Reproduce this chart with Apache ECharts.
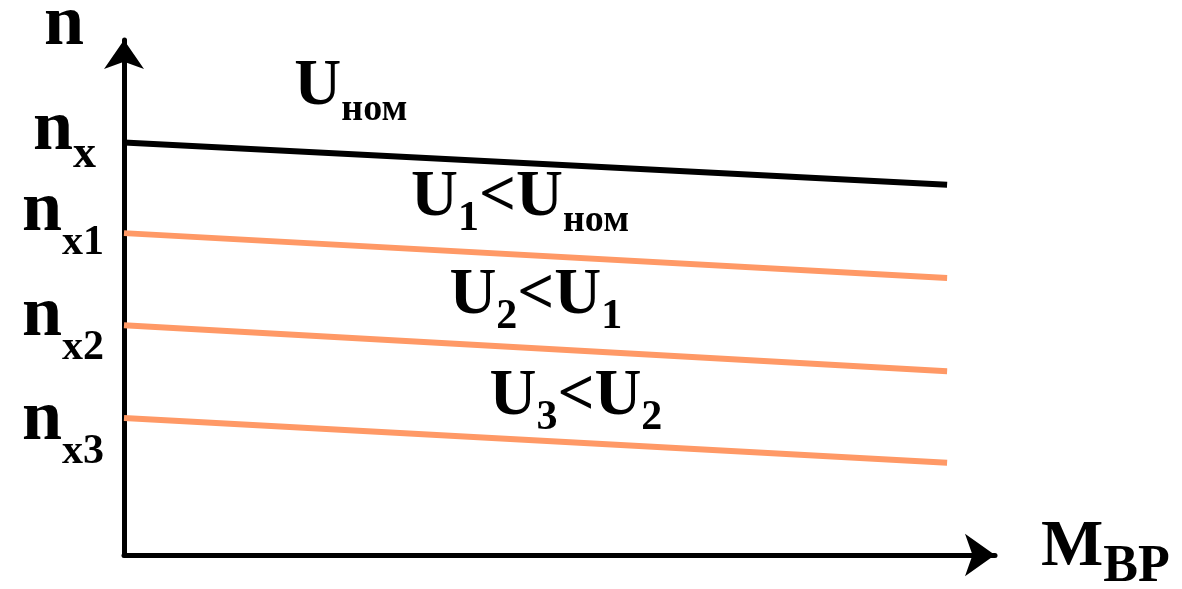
<!DOCTYPE html>
<html>
<head>
<meta charset="utf-8">
<script src="https://cdn.jsdelivr.net/npm/echarts@6/dist/echarts.min.js"></script>
<style>
    html, body { margin: 0; background: #fff; }
    #chart { width: 1182px; height: 589px; }
</style>
</head>
<body>
<div id="chart"></div>
<script>
// механические характеристики n(M) при снижении напряжения

const torque = [0, 94.5];
const speedNom = [80.1, 71.9];
const speedU1 = [62.5, 53.8];
const speedU2 = [44.6, 35.7];
const speedU3 = [26.6, 17.9];

const curveLabels = [
    '{m|U}{s|ном}',
    '{m|U}{d|1}{m|<U}{s|ном}',
    '{m|U}{d|2}{m|<U}{d|1}',
    '{m|U}{d|3}{m|<U}{d|2}'
];
const tickValues = [82.4, 66.7, 46.3, 26.1];
const tickSubs = ['x', 'x1', 'x2', 'x3'];

const FONT = 'Liberation Serif';

// где стоят подписи кривых (в единицах осей)
const labelAt = [[19.5, 90.9], [32.9, 69.3], [37.3, 50.3], [41.9, 30.7]];

// подстрочные индексы: verticalAlign bottom + маленькая height опускает их ниже строки
const richU = {
    m: { fontFamily: FONT, fontWeight: 'bold', fontSize: 65, lineHeight: 65, verticalAlign: 'top', color: '#000' },
    d: { fontFamily: FONT, fontWeight: 'bold', fontSize: 42, lineHeight: 23, height: 23, verticalAlign: 'bottom', color: '#000' },
    s: { fontFamily: FONT, fontWeight: 'bold', fontSize: 38, lineHeight: 19, height: 19, verticalAlign: 'bottom', color: '#000' }
};

function buildSeries(values, color, idx) {
    return {
        type: 'line',
        data: torque.map((x, i) => [x, values[i]]),
        showSymbol: false,
        lineStyle: { color: color, width: 6 },
        silent: true,
        markPoint: {
            symbol: 'rect',
            symbolSize: 1,
            itemStyle: { color: 'rgba(0,0,0,0)' },
            label: {
                show: true,
                position: 'right',
                distance: 0,
                formatter: curveLabels[idx],
                rich: richU
            },
            data: [{ coord: labelAt[idx] }]
        }
    };
}

const chart = echarts.init(document.getElementById('chart'));

chart.setOption({
    animation: false,
    grid: { left: 124, right: 187, top: 40, bottom: 34, outerBoundsMode: 'none', containLabel: false },
    xAxis: {
        type: 'value', min: 0, max: 100,
        name: '{m|М}{s|ВР}',
        nameLocation: 'end',
        nameGap: 46,
        nameMoveOverlap: false,
        nameTextStyle: {
            padding: [0, 0, 14, 0],
            rich: {
                m: { fontFamily: FONT, fontWeight: 'bold', fontSize: 66, lineHeight: 66, verticalAlign: 'top', color: '#000' },
                s: { fontFamily: FONT, fontWeight: 'bold', fontSize: 52, lineHeight: 27, height: 27, verticalAlign: 'bottom', color: '#000' }
            }
        },
        axisLine: {
            lineStyle: { color: '#000', width: 5 },
            symbol: ['none', 'arrow'],
            symbolSize: [32, 30]
        },
        axisTick: { show: false },
        axisLabel: { show: false },
        splitLine: { show: false }
    },
    yAxis: {
        type: 'value', min: 0, max: 100,
        name: 'n',
        nameLocation: 'end',
        nameGap: 15,
        nameMoveOverlap: false,
        nameTextStyle: {
            fontFamily: FONT, fontWeight: 'bold', fontSize: 72, color: '#000',
            align: 'right', verticalAlign: 'middle',
            padding: [0, 40, 0, 0]
        },
        axisLine: {
            lineStyle: { color: '#000', width: 5 },
            symbol: ['none', 'arrow'],
            symbolSize: [30, 29]
        },
        axisTick: { show: false },
        splitLine: { show: false },
        axisLabel: {
            // пустые метки на концах, чтобы echarts не прятал крайние n_x / n_x3
            customValues: [0].concat(tickValues, [100]),
            margin: 20,
            hideOverlap: false,
            formatter: (v) => {
                let i = tickValues.indexOf(v);
                if (i < 0) return '';
                // у n_x подпись короче и стоит левее
                return '{m|n}{' + (i === 0 ? 't' : 's') + '|' + tickSubs[i] + '}';
            },
            rich: {
                m: { fontFamily: FONT, fontWeight: 'bold', fontSize: 72, lineHeight: 72, verticalAlign: 'top', color: '#000' },
                s: { fontFamily: FONT, fontWeight: 'bold', fontSize: 42, lineHeight: 8, height: 8, verticalAlign: 'bottom', color: '#000' },
                t: { fontFamily: FONT, fontWeight: 'bold', fontSize: 46, lineHeight: 24, height: 24, verticalAlign: 'bottom', color: '#000', padding: [0, 8, 0, 0] }
            }
        }
    },
    series: [
        buildSeries(speedNom, '#000000', 0),
        buildSeries(speedU1, '#ff9966', 1),
        buildSeries(speedU2, '#ff9966', 2),
        buildSeries(speedU3, '#ff9966', 3)
    ]
});
</script>
</body>
</html>
